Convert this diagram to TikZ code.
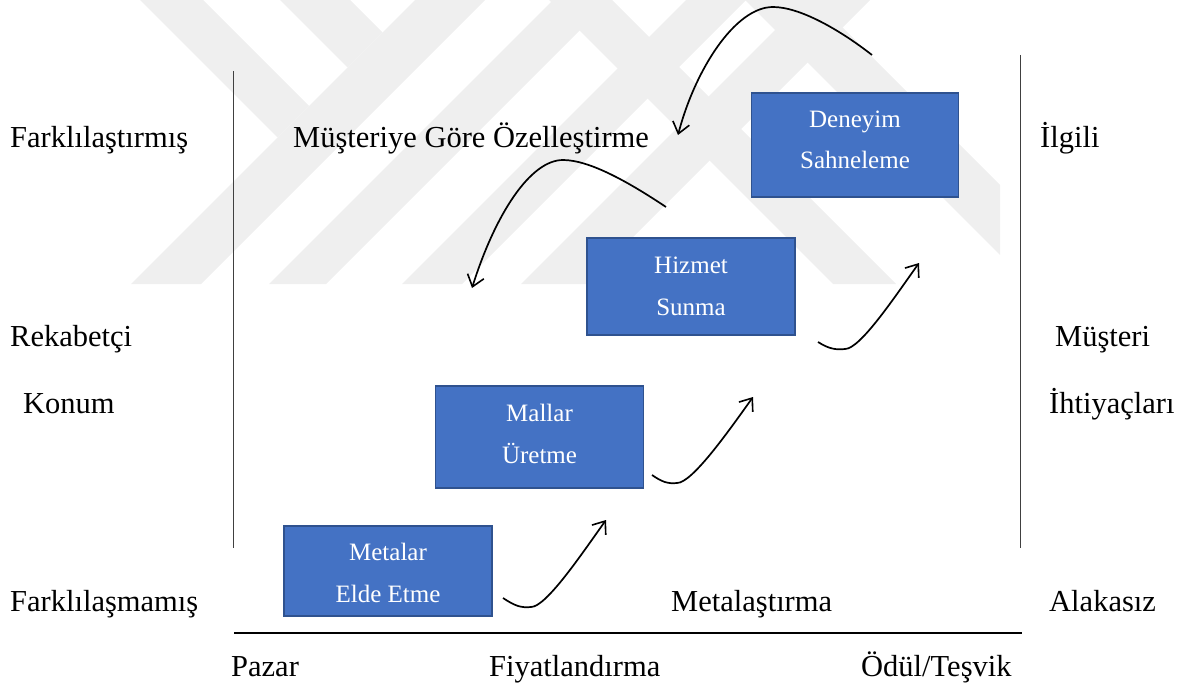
\documentclass[tikz,border=0pt]{standalone}
\usepackage{fontspec}
\setmainfont{Liberation Serif}
\usetikzlibrary{arrows.meta}

\definecolor{boxfill}{HTML}{4472C4}
\definecolor{boxline}{HTML}{2F528F}
\definecolor{mark}{HTML}{EFEFEF}

\tikzset{
  axis/.style={line width=1pt, draw=black!75},
  base/.style={line width=1.3pt, draw=black},
  stepbox/.style={rectangle, draw=boxline, fill=boxfill, line width=1.6pt, inner sep=0pt},
  boxtext/.style={anchor=base, text=white, inner sep=0pt, font=\fontsize{25}{30}\selectfont},
  outer/.style={anchor=base west, inner sep=0pt, font=\fontsize{30.5}{36}\selectfont},
  flow/.style={line width=1.7pt, -{Straight Barb[length=11pt,width=17pt,line width=1.6pt]}},
  band/.style={fill=mark, draw=none},
}

\begin{document}
\begin{tikzpicture}[x=1pt,y=-1pt]
\useasboundingbox (0,0) rectangle (1185,687);

% faint emblem in the background: rising and falling stripes
\begin{scope}
  \clip (125,0) rectangle (1000,284);
  % rising stripes (x+y constant edges)
  \fill[band] (415,0) -- (485,0) -- (201,284) -- (131,284) -- cycle;
  \fill[band] (553,0) -- (610,0) -- (326,284) -- (269,284) -- cycle;
  \fill[band] (686,0) -- (746,0) -- (462,284) -- (402,284) -- cycle;
  \fill[band] (805,0) -- (870,0) -- (586,284) -- (521,284) -- cycle;
  % falling stripes ending on the first rising stripe
  \fill[band] (140,0) -- (203,0) -- (309,106) -- (277.5,137.5) -- cycle;
  \fill[band] (280,0) -- (350,0) -- (382.5,32.5) -- (347.5,67.5) -- cycle;
  % falling stripes crossing to the bottom
  \fill[band] (549,0) -- (612,0) -- (896,284) -- (833,284) -- cycle;
  \fill[band] (745,0) -- (815,0) -- (1099,284) -- (1029,284) -- cycle;
\end{scope}

% axes
\draw[axis] (233,71) -- (233,548);
\draw[axis] (1020,55) -- (1020,548);
\draw[base] (234,633) -- (1022,633);

% side and axis labels
\node[outer] (farkli)   at (10,148)   {Farklılaştırmış};
\node[outer] (musteriye) at (293,148) {Müşteriye Göre Özelleştirme};
\node[outer] (ilgili)   at (1040,148) {İlgili};
\node[outer] (rekabet)  at (10,346)   {Rekabetçi};
\node[outer] (konum)    at (23,413)   {Konum};
\node[outer] (musteri)  at (1055,346) {Müşteri};
\node[outer] (ihtiyac)  at (1049,413) {İhtiyaçları};
\node[outer] (farksiz)  at (10,611)   {Farklılaşmamış};
\node[outer] (metalas)  at (671,611)  {Metalaştırma};
\node[outer] (alakasiz) at (1049,611) {Alakasız};
\node[outer] (pazar)    at (231,676)  {Pazar};
\node[outer] (fiyat)    at (489,676)  {Fiyatlandırma};
\node[outer] (odul)     at (861,676)  {Ödül/Teşvik};

% the four stages
\node[stepbox, minimum width=208pt, minimum height=90pt] (metalar) at (388,571) {};
\node[boxtext] at (388,560) {Metalar};
\node[boxtext] at (388,602) {Elde Etme};

\node[stepbox, minimum width=208pt, minimum height=102pt] (mallar) at (539.5,437) {};
\node[boxtext] at (539.5,421) {Mallar};
\node[boxtext] at (539.5,463) {Üretme};

\node[stepbox, minimum width=208pt, minimum height=97pt] (hizmet) at (691,286.5) {};
\node[boxtext] at (691,273) {Hizmet};
\node[boxtext] at (691,315) {Sunma};

\node[stepbox, minimum width=207pt, minimum height=104pt] (deneyim) at (855,145) {};
\node[boxtext] at (855,128) {Deneyim};
\node[boxtext] at (855,169) {Sahneleme};

% rising arrows between stages
\coordinate (u1s) at (503,598); \coordinate (u1e) at (606,520);
\coordinate (u2s) at (652,475); \coordinate (u2e) at (753,397);
\coordinate (u3s) at (818,342); \coordinate (u3e) at (919,263);
\draw[flow] (u1s) .. controls +(12,8) and +(-10,1) .. ++(28,9) .. controls +(15,0) and +(-25,35) .. (u1e);
\draw[flow] (u2s) .. controls +(10,7) and +(-9,1) .. ++(25,8) .. controls +(15,0) and +(-25,35) .. (u2e);
\draw[flow] (u3s) .. controls +(11,7) and +(-9,1) .. ++(27,7) .. controls +(15,0) and +(-25,35) .. (u3e);

% looping arrows back towards customisation
\coordinate (d1s) at (666,207); \coordinate (d1e) at (472,288);
\coordinate (d2s) at (872,55);  \coordinate (d2e) at (678,135);
\draw[flow] (d1s) .. controls (630,183) and (590,160) .. (563,160) .. controls (530,160) and (495,215) .. (d1e);
\draw[flow] (d2s) .. controls (840,30) and (800,7) .. (773,7) .. controls (735,7) and (695,70) .. (d2e);
\end{tikzpicture}
\end{document}
